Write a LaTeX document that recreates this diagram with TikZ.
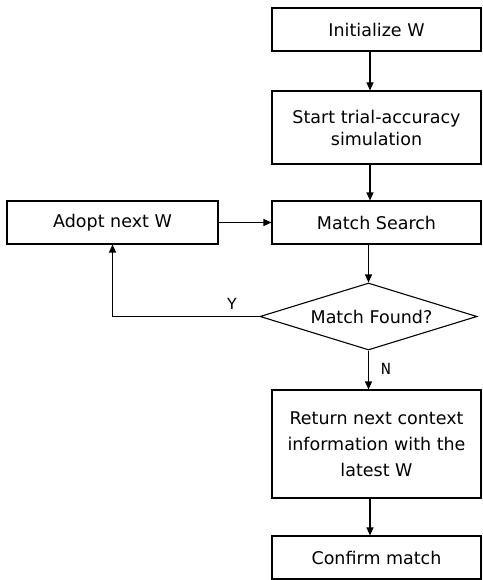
\documentclass[tikz,border=0pt]{standalone}
\usepackage{fontspec}
\setmainfont{DejaVu Sans}
\newfontfamily\monof{Liberation Mono}
\usetikzlibrary{arrows.meta,shapes.geometric}
\begin{document}
\begin{tikzpicture}[x=1pt,y=-1pt,
  box/.style={draw,line width=1.1pt,rectangle,inner sep=0pt,minimum width=209pt,align=center,
    font=\fontsize{17.5}{22}\selectfont},
  arr/.style={line width=1.1pt,-{Triangle[length=8pt,width=7pt]}},
  lab/.style={font=\monof\fontsize{17}{20}\selectfont,inner sep=0pt}]
\useasboundingbox (0,0) rectangle (482,580);
\node[box,minimum height=43pt] (init) at (376.5,29.5) {Initialize W};
\node[box,minimum height=73pt] (start) at (376.5,127.5) {Start trial-accuracy\\simulation};
\node[box,minimum height=43pt] (match) at (376.5,222.5) {Match Search};
\node[box,minimum height=43pt,minimum width=211pt] (adopt) at (112.5,222.5) {Adopt next W};
\node[draw,line width=1.1pt,diamond,shape aspect=3.24,minimum width=217pt,minimum height=67pt,inner sep=0pt,
  font=\fontsize{17.5}{22}\selectfont] (dia) at (368.5,316.5) {\hspace*{6pt}Match Found?};
\node[box,minimum height=108pt,font=\fontsize{17.5}{26}\selectfont] (ret) at (376.5,444) {Return next context\\information with the\\latest W};
\node[box,minimum height=43pt] (conf) at (376.5,557.5) {Confirm match};
\coordinate (ax) at (370,0);
\draw[arr] (init.south -| ax) -- (start.north -| ax);
\draw[arr] (start.south -| ax) -- (match.north -| ax);
\draw[arr] (match.south -| dia.north) -- (dia.north);
\draw[arr] (dia.south) -- (ret.north -| dia.south);
\draw[arr] (ret.south -| ax) -- (conf.north -| ax);
\draw[arr] (adopt.east) -- (match.west);
\draw[arr] (dia.west) -| (adopt.south);
\node[lab] (y) at (232,304) {Y};
\node[lab] (n) at (386,369) {N};
\end{tikzpicture}
\end{document}
